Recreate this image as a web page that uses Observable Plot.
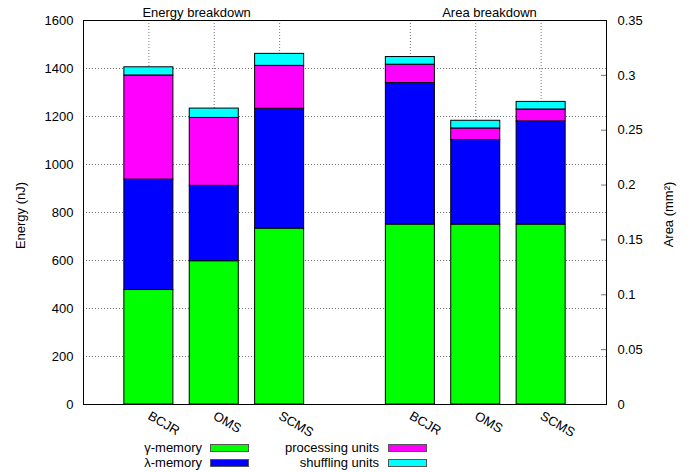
<!DOCTYPE html>
<html><head>
<meta charset="utf-8">
<script src="https://cdn.jsdelivr.net/npm/d3@7"></script>
<script src="https://cdn.jsdelivr.net/npm/@observablehq/plot@0.6"></script>
<style>
body{margin:0;background:#fff;font-family:"Liberation Sans",Arial,Helvetica,sans-serif;}
#wrap{position:relative;width:698px;height:472px;overflow:hidden;}
#legend{position:relative;width:698px;height:32px;font-size:13px;color:#000;}
.lab{position:absolute;text-align:right;white-space:nowrap;line-height:14px;}
.sw{position:absolute;width:37px;height:6px;border:1px solid #555;box-sizing:content-box;}
</style></head><body>
<div id="wrap"><div id="chart"></div><div id="legend"></div></div>
<script>
const decoders = ["BCJR", "OMS", "SCMS"];
const components = ["γ-memory", "λ-memory", "processing units", "shuffling units"];
const colors = ["#00ff00", "#0000ff", "#ff00ff", "#00ffff"];
const energyGamma  = [477, 597, 733];
const energyLambda = [460, 314, 499];
const energyProc   = [434, 283, 179];
const energyShuf   = [34, 39, 50];
const areaGamma  = [0.164, 0.164, 0.164];
const areaLambda = [0.129, 0.077, 0.094];
const areaProc   = [0.0167, 0.0106, 0.0109];
const areaShuf   = [0.007, 0.007, 0.0069];
const energyTicks = [0, 200, 400, 600, 800, 1000, 1200, 1400, 1600];
const energyTickLabels = ["0", "200", "400", "600", "800", "1000", "1200", "1400", "1600"];
const areaTicks = [0, 0.05, 0.1, 0.15, 0.2, 0.25, 0.3, 0.35];
const areaTickLabels = ["0", "0.05", "0.1", "0.15", "0.2", "0.25", "0.3", "0.35"];
const groupTitles = ["Energy breakdown", "Area breakdown"];

const eMax = 1600, aMax = 0.35, k = eMax / aMax;
const halfW = 0.375;
const groups = [
  {offset: 0, scale: 1, series: [energyGamma, energyLambda, energyProc, energyShuf]},
  {offset: 4, scale: k, series: [areaGamma, areaLambda, areaProc, areaShuf]}
];
const rows = [], labels = [];
for (const g of groups) {
  decoders.forEach((name, i) => {
    const slot = g.offset + i;
    labels.push({slot, name});
    let acc = 0;
    g.series.forEach((s, c) => {
      const y1 = acc, y2 = acc + s[i] * g.scale;
      acc = y2;
      rows.push({slot, c, y1, y2});
    });
  });
}
const slots = labels.map(d => d.slot);
const gridY = energyTicks.filter(t => t > 0 && t < eMax);
const aT = areaTicks.map(a => a * k);
const aLab = v => areaTickLabels[aT.findIndex(t => Math.abs(t - v) < 1e-6)];
const eLab = v => energyTickLabels[energyTicks.indexOf(v)];

const chart = Plot.plot({
  width: 698, height: 440,
  marginLeft: 83, marginRight: 92, marginTop: 20, marginBottom: 36,
  style: {fontFamily: '"Liberation Sans", Arial, sans-serif', fontSize: "13px", background: "#fff"},
  x: {domain: [-1, 7], axis: null},
  y: {domain: [0, eMax], axis: null},
  marks: [
    Plot.ruleY(gridY, {stroke: "#777", strokeDasharray: "1,2", strokeWidth: 1}),
    Plot.ruleX(slots, {stroke: "#777", strokeDasharray: "1,2", strokeWidth: 1}),
    Plot.rect(rows, {x1: d => d.slot - halfW, x2: d => d.slot + halfW, y1: "y1", y2: "y2",
      fill: d => colors[d.c], stroke: "#000", strokeWidth: 1}),
    Plot.axisY({anchor: "left", ticks: energyTicks, tickSize: 0, tickPadding: 10, tickFormat: eLab, label: null, fontSize: 13}),
    Plot.axisY({anchor: "right", ticks: aT.filter((t, i) => i > 0 && i < aT.length - 1), tickSize: 6, dx: -6,
      tickFormat: () => "", stroke: "#777", label: null}),
    Plot.axisY({anchor: "right", ticks: aT, tickSize: 0, tickPadding: 11, tickFormat: aLab, label: null, fontSize: 13}),
    Plot.text(labels, {x: "slot", y: () => 0, text: "name", rotate: 30, textAnchor: "start",
      lineAnchor: "bottom", dx: -2, dy: 14, fontSize: 13}),
    Plot.text([groupTitles[0]], {x: () => 0.73, frameAnchor: "top", dy: -13, textAnchor: "middle", fontSize: 13}),
    Plot.text([groupTitles[1]], {x: () => 5.21, frameAnchor: "top", dy: -13, textAnchor: "middle", fontSize: 13}),
    Plot.text(["Energy (nJ)"], {frameAnchor: "left", dx: -63, dy: 3, rotate: -90, textAnchor: "middle", fontSize: 13}),
    Plot.text(["Area (mm²)"], {frameAnchor: "right", dx: 62, dy: 2, rotate: -90, textAnchor: "middle", fontSize: 13}),
    Plot.frame({stroke: "#000", strokeWidth: 1})
  ]
});
document.getElementById("chart").appendChild(chart);

const legend = document.getElementById("legend");
const cols = [{labRight: 202, swX: 210}, {labRight: 379, swX: 388}];
const rowsY = [8, 23];
components.forEach((name, i) => {
  const col = cols[Math.floor(i / 2)], ry = rowsY[i % 2];
  const l = document.createElement("div");
  l.className = "lab";
  l.textContent = name;
  l.style.right = (698 - col.labRight) + "px";
  l.style.top = (ry - 7) + "px";
  legend.appendChild(l);
  const s = document.createElement("div");
  s.className = "sw";
  s.style.left = col.swX + "px";
  s.style.top = (ry - 4) + "px";
  s.style.background = colors[i];
  legend.appendChild(s);
});
</script>
</body></html>
